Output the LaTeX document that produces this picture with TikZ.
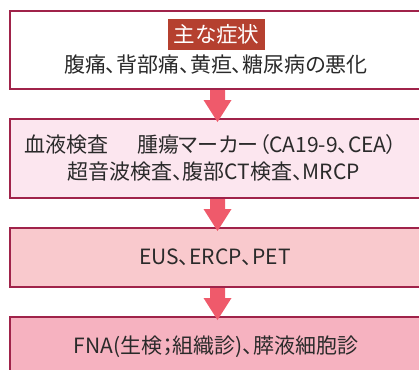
\documentclass[tikz,border=0pt]{standalone}
\usepackage{fontspec}
\usetikzlibrary{calc}
\newfontfamily\jp[RawFeature=+palt]{Noto Sans CJK JP}
\definecolor{bordercol}{HTML}{A0234A}
\definecolor{arrowcol}{HTML}{EF5A6B}
\definecolor{labelcol}{HTML}{B5402F}
\definecolor{fillb}{HTML}{FCE6EF}
\definecolor{fillc}{HTML}{F9C9CD}
\definecolor{filld}{HTML}{F6B2C0}
\definecolor{txt}{HTML}{2A2A2A}
\tikzset{
  stepbox/.style={draw=bordercol, line width=2pt, rectangle, minimum width=415pt, inner sep=0pt, anchor=north west},
  body/.style={font=\jp\fontsize{21}{24}\selectfont, text=txt, inner sep=0pt},
  tag/.style={font=\jp\fontsize{21.5}{24}\selectfont, text=white, fill=labelcol, minimum width=97pt, minimum height=31pt, inner sep=0pt},
}
\newcommand\blockarrow[2]{%
  \path let \p1=(#1.south), \p2=(#2.north) in
    [fill=arrowcol] (\x1-7.5pt,\y1) -- (\x1+7.5pt,\y1) -- (\x1+7.5pt,\y1-10pt) -- (\x1+14pt,\y1-10pt)
    -- (\x1,\y2-4pt) -- (\x1-14pt,\y1-10pt) -- (\x1-7.5pt,\y1-10pt) -- cycle;}
\begin{document}
\begin{tikzpicture}[x=1pt,y=-1pt]
\useasboundingbox (0,0) rectangle (419,369);
\clip (0,0) rectangle (419,369);
\node[stepbox, fill=white, minimum height=78pt] (b1) at (9,10) {};
\node[stepbox, fill=fillb, minimum height=79pt] (b2) at (9,118) {};
\node[stepbox, fill=fillc, minimum height=59pt] (b3) at (9,227) {};
\node[stepbox, fill=filld, minimum height=70pt] (b4) at (9,316) {};
\blockarrow{b1}{b2}
\blockarrow{b2}{b3}
\blockarrow{b3}{b4}
\node[tag] (t1) at (216.5,34.5) {主な症状};
\node[body] (l1) at (216,65) {腹痛、背部痛、黄疸、糖尿病の悪化};
\node[body] (l2) at (211,145) {血液検査\hspace{1.35em}腫瘍マーカー（CA19-9、CEA）};
\node[body] (l3) at (213.5,172) {超音波検査、腹部CT検査、MRCP};
\node[body] (l4) at (215,257) {EUS、ERCP、PET};
\node[body] (l5) at (216,347) {FNA(生検；組織診)、膵液細胞診};
\end{tikzpicture}
\end{document}
